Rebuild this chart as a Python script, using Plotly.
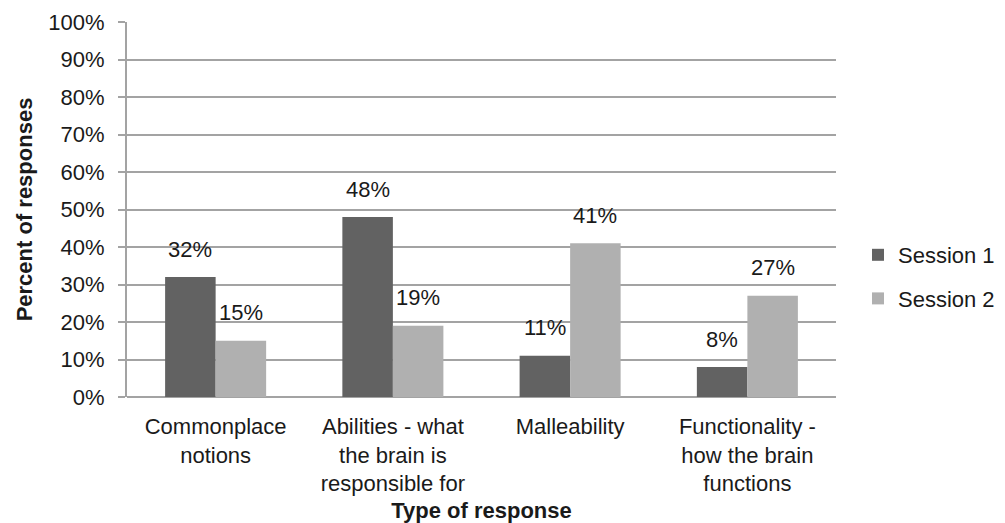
import plotly.graph_objects as go

categories = ["Commonplace<br>notions", "Abilities - what<br>the brain is<br>responsible for",
              "Malleability", "Functionality -<br>how the brain<br>functions"]
session1 = [32, 48, 11, 8]
session2 = [15, 19, 41, 27]
series_names = ["Session 1", "Session 2"]
colors = ["#626262", "#b0b0b0"]
y_ticks = [0, 10, 20, 30, 40, 50, 60, 70, 80, 90, 100]
y_tick_labels = [f"{v}%" for v in y_ticks]

FONT = "Liberation Sans, Arial, sans-serif"
FS = 22
fig = go.Figure()
for name, vals, col in zip(series_names, [session1, session2], colors):
    fig.add_trace(go.Bar(x=categories, y=vals, name=name, marker=dict(color=col, line=dict(width=0)),
                         legendgroup=name))

bargap = 0.43
half = (1 - bargap) / 4
for vals, sign in [(session1, -1), (session2, 1)]:
    for i, v in enumerate(vals):
        fig.add_annotation(x=i + sign * half, y=v, xref="x", yref="y", text=f"{int(v + 0.5)}%",
                           showarrow=False, yanchor="middle", yshift=28,
                           font=dict(family=FONT, size=FS, color="#1a1a1a"))

fig.update_layout(
    width=1005, height=523,
    margin=dict(l=127, r=169, t=22, b=126, autoexpand=False),
    paper_bgcolor="white", plot_bgcolor="white",
    barmode="group", bargap=bargap, bargroupgap=0,
    font=dict(family=FONT, size=FS, color="#1a1a1a"),
    legend=dict(x=1.031, xanchor="left", y=0.32, yanchor="middle",
                font=dict(family=FONT, size=FS, color="#1a1a1a"),
                tracegroupgap=12, traceorder="grouped", itemwidth=30),
    showlegend=True,
)
fig.update_xaxes(showgrid=False, showline=False, ticks="", tickfont=dict(size=FS),
                 ticklabelstandoff=14, automargin=False,
                 title=dict(text="<b>Type of response</b>", font=dict(size=FS), standoff=14))
fig.update_yaxes(range=[0, 100], tickvals=y_ticks, ticktext=y_tick_labels,
                 showgrid=True, gridcolor="#a3a3a3", gridwidth=2,
                 zeroline=True, zerolinecolor="#a3a3a3", zerolinewidth=2,
                 showline=True, linecolor="#a3a3a3", linewidth=2,
                 ticks="outside", ticklen=7, tickcolor="#a3a3a3", tickwidth=2,
                 tickfont=dict(size=FS), ticklabelstandoff=9, automargin=False,
                 title=dict(text="<b>Percent of responses</b>", font=dict(size=FS), standoff=10))

fig.write_html("out.html")
